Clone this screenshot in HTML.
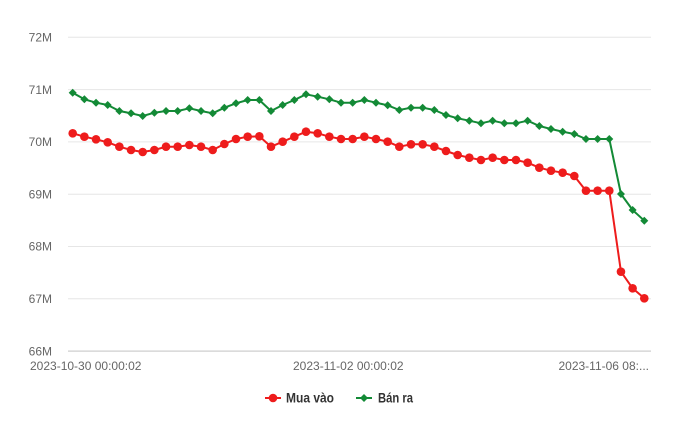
<!DOCTYPE html>
<html><head><meta charset="utf-8"><style>
html,body{margin:0;padding:0;background:#fff;}
svg{display:block;}
</style></head><body>
<svg width="680" height="434" viewBox="0 0 680 434" xmlns="http://www.w3.org/2000/svg">
<defs>
<marker id="mc" markerUnits="userSpaceOnUse" markerWidth="12" markerHeight="12" refX="6" refY="6" overflow="visible"><circle cx="6" cy="6" r="4.3" fill="#ee1c1c"/></marker>
<marker id="md" markerUnits="userSpaceOnUse" markerWidth="12" markerHeight="12" refX="6" refY="6" overflow="visible"><path d="M6 2 L10 6 L6 10 L2 6 Z" fill="#138a36"/></marker>
</defs>
<g stroke="#e6e6e6" stroke-width="1">
<line x1="68" y1="37.3" x2="651" y2="37.3"/>
<line x1="68" y1="89.6" x2="651" y2="89.6"/>
<line x1="68" y1="141.9" x2="651" y2="141.9"/>
<line x1="68" y1="194.2" x2="651" y2="194.2"/>
<line x1="68" y1="246.5" x2="651" y2="246.5"/>
<line x1="68" y1="298.8" x2="651" y2="298.8"/>
</g>
<line x1="68" y1="351.1" x2="651" y2="351.1" stroke="#d6d6d6" stroke-width="1.5"/>
<g font-family="Liberation Sans, sans-serif" font-size="12" fill="#666" text-anchor="end">
<text x="52" y="41.5">72M</text>
<text x="52" y="93.8">71M</text>
<text x="52" y="146.1">70M</text>
<text x="52" y="198.4">69M</text>
<text x="52" y="250.7">68M</text>
<text x="52" y="303">67M</text>
<text x="52" y="355.3">66M</text>
</g>
<g font-family="Liberation Sans, sans-serif" font-size="12" fill="#666">
<text x="30" y="370">2023-10-30 00:00:02</text>
<text x="293" y="370">2023-11-02 00:00:02</text>
<text x="649" y="370" text-anchor="end">2023-11-06 08:...</text>
</g>
<polyline fill="none" stroke="#138a36" stroke-width="2" stroke-linejoin="round" marker-start="url(#md)" marker-mid="url(#md)" marker-end="url(#md)" points="72.7,92.7 84.37,99.3 96.03,102.7 107.7,105 119.36,111 131.03,113.3 142.69,116 154.36,112.7 166.02,111 177.69,111 189.35,108.3 201.02,111 212.68,113.3 224.35,107.7 236.01,103.3 247.68,100 259.34,100 271.01,111 282.67,105 294.34,100 306,94.3 317.67,96.7 329.33,99.3 341,102.7 352.66,102.7 364.33,100 375.99,102.7 387.66,105.3 399.32,110 410.99,107.7 422.65,107.7 434.32,110 445.98,115 457.65,118.3 469.31,120.7 480.98,123.3 492.64,120.7 504.31,123.3 515.97,123.3 527.64,120.7 539.3,126 550.97,129 562.63,131.7 574.3,134 585.96,139 597.63,139 609.29,139 620.96,194 632.62,210 644.29,220.7"/>
<polyline fill="none" stroke="#ee1c1c" stroke-width="2" stroke-linejoin="round" marker-start="url(#mc)" marker-mid="url(#mc)" marker-end="url(#mc)" points="72.7,133.3 84.37,136.7 96.03,139.3 107.7,142.3 119.36,146.7 131.03,150 142.69,152 154.36,150 166.02,146.7 177.69,146.7 189.35,145 201.02,146.7 212.68,150 224.35,144 236.01,139 247.68,136.7 259.34,136.3 271.01,146.7 282.67,141.7 294.34,136.7 306,131.7 317.67,133.3 329.33,136.7 341,139 352.66,139 364.33,136.7 375.99,139 387.66,141.7 399.32,146.7 410.99,144.3 422.65,144.3 434.32,146.7 445.98,151 457.65,155 469.31,157.7 480.98,160 492.64,157.7 504.31,160 515.97,160 527.64,162.7 539.3,167.7 550.97,170.7 562.63,172.7 574.3,176 585.96,190.7 597.63,190.7 609.29,190.7 620.96,271.7 632.62,288.3 644.29,298.3"/>
<line x1="265" y1="398" x2="281" y2="398" stroke="#ee1c1c" stroke-width="2"/>
<circle cx="273" cy="398" r="4.3" fill="#ee1c1c"/>
<text x="286" y="402.5" font-family="Liberation Sans, sans-serif" font-size="13.5" font-weight="bold" fill="#333" textLength="48" lengthAdjust="spacingAndGlyphs">Mua vào</text>
<line x1="356" y1="398" x2="372" y2="398" stroke="#138a36" stroke-width="2"/>
<path d="M364 394 L368 398 L364 402 L360 398 Z" fill="#138a36"/>
<text x="378" y="402.5" font-family="Liberation Sans, sans-serif" font-size="13.5" font-weight="bold" fill="#333" textLength="35" lengthAdjust="spacingAndGlyphs">Bán ra</text>
</svg>
</body></html>
